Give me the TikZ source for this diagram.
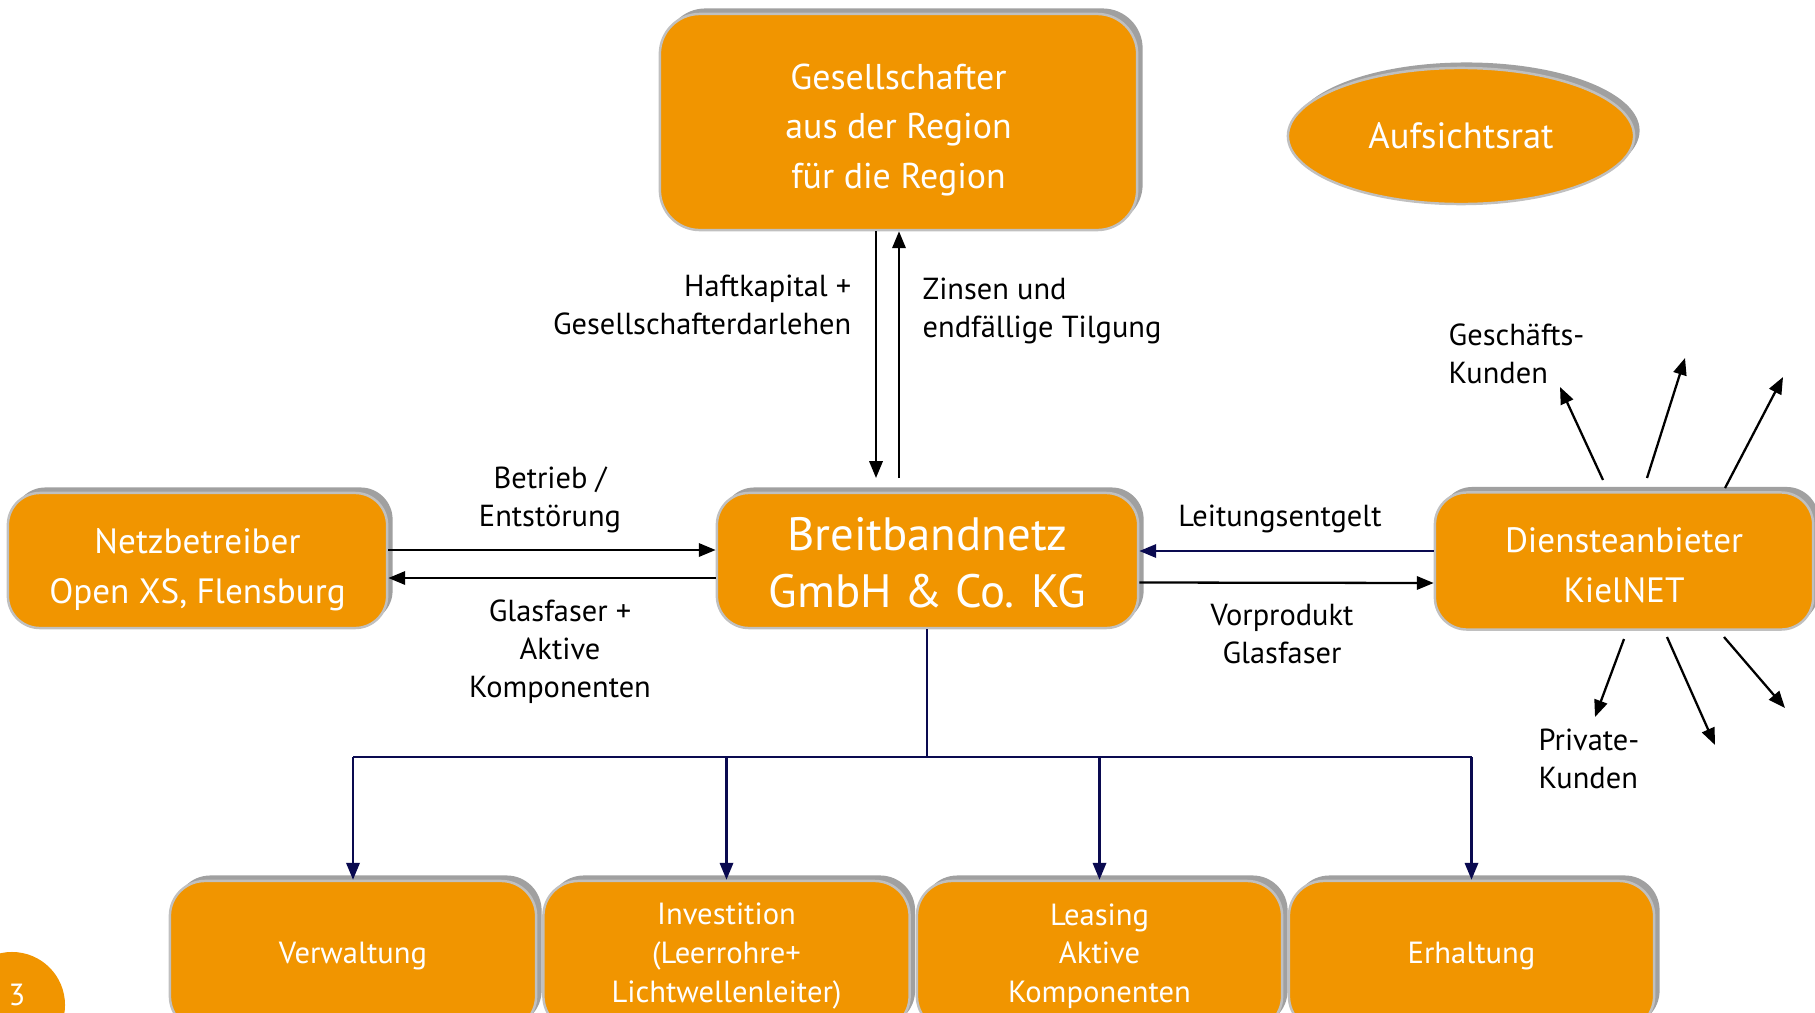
\documentclass[tikz,border=0pt]{standalone}
\usepackage{fontspec}
\setmainfont{PT Sans}
\usetikzlibrary{arrows.meta,shapes.geometric,shadows,calc}
\definecolor{boxorange}{RGB}{241,149,0}
\definecolor{shgray}{RGB}{160,160,160}
\definecolor{bordergray}{RGB}{192,192,192}
\definecolor{navyline}{RGB}{10,10,80}
\newcommand\fGes{\fontsize{10.2pt}{14.2pt}\selectfont}
\newcommand\fBig{\fontsize{13.3pt}{16.2pt}\selectfont}
\newcommand\fMid{\fontsize{10pt}{14.2pt}\selectfont}
\newcommand\fAuf{\fontsize{10.4pt}{14pt}\selectfont}
\newcommand\fSm{\fontsize{8.7pt}{11pt}\selectfont}
\newcommand\fLbl{\fontsize{8.65pt}{10.8pt}\selectfont}
\begin{document}
\begin{tikzpicture}[x=0.01cm,y=-0.01cm,
  boxbase/.style={fill=boxorange, draw=bordergray, line width=0.7pt, text=white, align=center, inner sep=0pt,
     drop shadow={shadow xshift=0.055cm, shadow yshift=0.055cm, fill=shgray, opacity=1}},
  rbox/.style={boxbase, rectangle, rounded corners=0.32cm},
  ellbox/.style={boxbase, ellipse},
  boxtxt/.style={text=white, align=center, inner sep=0pt},
  lbl/.style={text=black, font=\fLbl, align=center, inner sep=0pt},
  arr/.style={-{Triangle[length=4.8pt,width=3.8pt]}, line width=0.65pt, black},
  navyarr/.style={arr, navyline},
  navyln/.style={line width=0.65pt, navyline}
]
\useasboundingbox (0,0) rectangle (1815,1012);

% boxes
\node[rbox, rounded corners=0.4cm, minimum width=4.77cm, minimum height=2.16cm] (ges) at (898.5,122) {};
\node[boxtxt, font=\fGes] (gestxt) at ($(ges.center)+(0,8)$) {Gesellschafter\\aus der Region\\für die Region};
\node[ellbox, minimum width=3.46cm, minimum height=1.36cm, font=\fAuf] (auf) at (1461,136) {Aufsichtsrat};
\node[rbox, minimum width=3.79cm, minimum height=1.35cm] (netz) at (197.5,560.5) {};
\node[boxtxt, font=\fMid] (netztxt) at ($(netz.center)+(0,9)$) {Netzbetreiber\\Open XS, Flensburg};
\node[rbox, minimum width=4.21cm, minimum height=1.35cm] (breit) at (927.5,560.5) {};
\node[boxtxt, font=\fBig] (breittxt) at ($(breit.center)+(0,2)$) {Breitbandnetz\\GmbH \& Co. KG};
\node[rbox, minimum width=3.78cm, minimum height=1.37cm] (dienst) at (1624,561) {};
\node[boxtxt, font=\fMid] (diensttxt) at ($(dienst.center)+(0,4)$) {Diensteanbieter\\KielNET};

\node[rbox, rounded corners=0.35cm, minimum width=3.66cm, minimum height=1.5cm, font=\fSm] (verw) at (353,956) {Verwaltung};
\node[rbox, rounded corners=0.35cm, minimum width=3.66cm, minimum height=1.5cm, font=\fSm] (inv) at (726.5,956) {Investition\\(Leerrohre+\\Lichtwellenleiter)};
\node[rbox, rounded corners=0.35cm, minimum width=3.65cm, minimum height=1.5cm, font=\fSm] (leas) at (1099.5,956) {Leasing\\Aktive\\Komponenten};
\node[rbox, rounded corners=0.35cm, minimum width=3.65cm, minimum height=1.5cm, font=\fSm] (erh) at (1471.5,956) {Erhaltung};

% page number
\node[circle, fill=boxorange, minimum size=1.06cm, inner sep=0pt] (pg) at (12,1005) {};
\node[text=white, font=\fSm, inner sep=0pt] (pgnum) at (17,995) {3};

% labels
\node[lbl, anchor=east, align=right] (haft) at (852,305) {Haftkapital +\\Gesellschafterdarlehen};
\node[lbl, anchor=west, align=left] (zins) at (922,310.5) {Zinsen und\\endfällige Tilgung};
\node[lbl] (betr) at (550,500) {Betrieb /\\Entstörung};
\node[lbl] (glas) at (560,652) {Glasfaser +\\Aktive\\Komponenten};
\node[lbl] (leit) at (1280,519) {Leitungsentgelt};
\node[lbl] (vorp) at (1282,634) {Vorprodukt\\Glasfaser};
\node[lbl, anchor=west, align=left] (gk) at (1448,354) {Geschäfts-\\Kunden};
\node[lbl, anchor=west, align=left] (pk) at (1538,759) {Private-\\Kunden};

% vertical pair
\coordinate (dn) at (876,478);
\coordinate (upc) at (899,478);
\draw[arr] (ges.south -| dn) -- (dn);
\draw[arr] (upc) -- (ges.south -| upc);

% Netz <-> Breit
\draw[arr] ($(netz.east)+(0,-10.5)$) -- ($(breit.west)+(0,-10.5)$);
\draw[arr] ($(breit.west)+(0,17.5)$) -- ($(netz.east)+(0,17.5)$);

% Breit <-> Dienst
\draw[navyarr] ($(dienst.west)+(0,-10)$) -- ($(breit.east)+(0,-9.5)$);
\draw[arr] ($(breit.east)+(0,22)$) -- ($(dienst.west)+(0,22)$);

% tree
\coordinate (j) at (927,757);
\draw[navyln] (breit.south -| j) -- (j);
\draw[navyln] (verw.north |- j) -- (erh.north |- j);
\draw[navyarr] (verw.north |- j) -- (verw.north);
\draw[navyarr] (inv.north |- j) -- (inv.north);
\draw[navyarr] (leas.north |- j) -- (leas.north);
\draw[navyarr] (erh.north |- j) -- (erh.north);

% rays of the service provider
\coordinate (r1a) at (1603,480); \coordinate (r1b) at (1560,387);
\coordinate (r2a) at (1647,478); \coordinate (r2b) at (1685,358);
\coordinate (r3a) at (1725,488); \coordinate (r3b) at (1783,377);
\coordinate (r4a) at (1624,639); \coordinate (r4b) at (1595,717);
\coordinate (r5a) at (1667,637); \coordinate (r5b) at (1715,745);
\coordinate (r6a) at (1724,637); \coordinate (r6b) at (1785,708);
\foreach \i in {1,...,6} {\draw[arr] (r\i a) -- (r\i b);}
\end{tikzpicture}
\end{document}
